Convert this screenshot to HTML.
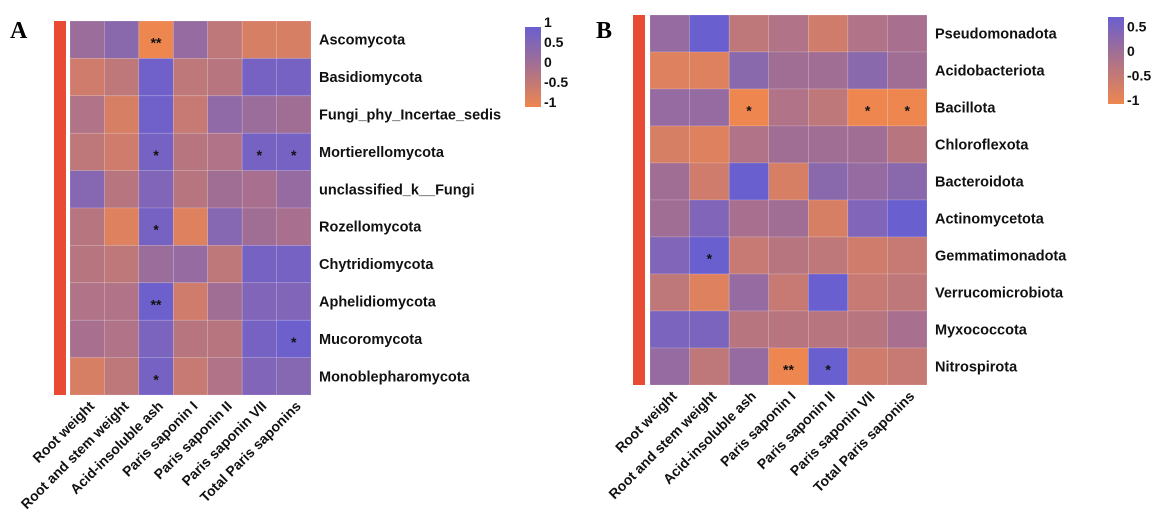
<!DOCTYPE html>
<html><head><meta charset="utf-8">
<style>
html,body{margin:0;padding:0;background:#fff;}
svg{display:block;font-family:"Liberation Sans",Arial,sans-serif;}
.rl{font-size:14.5px;font-weight:bold;fill:#111;}
.xl{font-size:14px;font-weight:bold;fill:#111;}
.lg{font-size:14px;font-weight:bold;fill:#111;}
.pl{font-family:"Liberation Serif",serif;font-size:24px;font-weight:bold;fill:#000;}
</style></head>
<body>
<svg id="chart" width="1169" height="524" viewBox="0 0 1169 524">
<defs>
<linearGradient id="gA" x1="0" y1="1" x2="0" y2="0">
<stop offset="0" stop-color="#EE8650"/><stop offset="0.55" stop-color="#A06E95"/><stop offset="1" stop-color="#6A5FCF"/>
</linearGradient>
<linearGradient id="gB" x1="0" y1="1" x2="0" y2="0">
<stop offset="0" stop-color="#EE8650"/><stop offset="0.6" stop-color="#A06E95"/><stop offset="1" stop-color="#6A5FCF"/>
</linearGradient>
</defs>
</svg>
<script>
const xCats = ["Root weight","Root and stem weight","Acid-insoluble ash","Paris saponin I","Paris saponin II","Paris saponin VII","Total Paris saponins"];
const rowsA = ["Ascomycota","Basidiomycota","Fungi_phy_Incertae_sedis","Mortierellomycota","unclassified_k__Fungi","Rozellomycota","Chytridiomycota","Aphelidiomycota","Mucoromycota","Monoblepharomycota"];
const valsA = [
[0.1,0.4,-1,0.2,-0.4,-0.7,-0.7],
[-0.6,-0.4,0.9,-0.4,-0.3,0.8,0.8],
[-0.2,-0.7,0.9,-0.5,0.3,0.1,0.0],
[-0.4,-0.6,0.8,-0.3,-0.2,0.8,0.8],
[0.5,-0.3,0.6,-0.3,0.0,-0.1,0.2],
[-0.3,-0.8,0.8,-0.8,0.5,0.0,-0.1],
[-0.3,-0.4,0.1,0.2,-0.4,0.8,0.8],
[-0.2,-0.2,0.95,-0.6,0.0,0.6,0.6],
[-0.1,-0.2,0.7,-0.3,-0.3,0.8,0.95],
[-0.7,-0.4,0.8,-0.5,-0.2,0.6,0.5]];
const sigA = [
["","","**","","","",""],["","","","","","",""],["","","","","","",""],
["","","*","","","*","*"],["","","","","","",""],["","","*","","","",""],
["","","","","","",""],["","","**","","","",""],["","","","","","","*"],["","","*","","","",""]];
const rowsB = ["Pseudomonadota","Acidobacteriota","Bacillota","Chloroflexota","Bacteroidota","Actinomycetota","Gemmatimonadota","Verrucomicrobiota","Myxococcota","Nitrospirota"];
const valsB = [
[0.1,0.5,-0.4,-0.2,-0.6,-0.2,-0.1],
[-0.8,-0.8,0.2,0.0,0.0,0.2,0.0],
[0.1,0.1,-1,-0.2,-0.4,-1,-1],
[-0.7,-0.8,-0.2,0.0,0.0,0.0,-0.3],
[0.0,-0.6,0.5,-0.7,0.2,0.1,0.2],
[0.0,0.3,-0.1,0.0,-0.7,0.3,0.5],
[0.3,0.5,-0.5,-0.3,-0.4,-0.6,-0.5],
[-0.4,-0.8,0.1,-0.5,0.5,-0.5,-0.4],
[0.35,0.35,-0.3,-0.3,-0.3,-0.3,-0.1],
[0.1,-0.4,0.1,-1,0.6,-0.6,-0.5]];
const sigB = [
["","","","","","",""],["","","","","","",""],["","","*","","","*","*"],
["","","","","","",""],["","","","","","",""],["","","","","","",""],
["","*","","","","",""],["","","","","","",""],["","","","","","",""],["","","","**","*","",""]];
const ticksA = [1,0.5,0,-0.5,-1];
const ticksB = [0.5,0,-0.5,-1];

const NS="http://www.w3.org/2000/svg";
const svg=document.getElementById('chart');
function el(t,a,p){const e=document.createElementNS(NS,t);for(const k in a)e.setAttribute(k,a[k]);(p||svg).appendChild(e);return e;}
const O=[238,134,80],M=[160,110,149],B=[106,95,207];
function mix(a,b,t){return 'rgb('+a.map((v,i)=>Math.round(v+(b[i]-v)*t)).join(',')+')';}
function color(v,min,max,mid){v=Math.max(min,Math.min(max,v));return v<mid?mix(O,M,(v-min)/(mid-min)):mix(M,B,(v-mid)/(max-mid));}

function panel(cfg){
  const g=el('g',{});
  
  
  const t=el('text',{x:cfg.letterX,y:38,class:'pl'},g);t.textContent=cfg.letter;
  
  const rb=el('rect',{x:cfg.barX,y:cfg.y0,width:12,height:cfg.y1-cfg.y0,fill:'#E84A33'},g);
  
  const nc=xCats.length,nr=cfg.rows.length;
  const cw=(cfg.x1-cfg.x0)/nc,rh=(cfg.y1-cfg.y0)/nr;
  const xs=i=>cfg.x0+i*cw, ys=j=>cfg.y0+j*rh;
  cfg.rows.forEach((r,j)=>{
    xCats.forEach((c,i)=>{
      const v=cfg.vals[j][i];
      const cell=el('rect',{x:xs(i),y:ys(j),width:cw,height:rh,fill:color(v,cfg.min,cfg.max,cfg.mid),stroke:'rgba(255,255,255,0.25)','stroke-width':0.6},g);
      
      
      if(cfg.sig[j][i]){const s=el('text',{x:xs(i)+cw/2,y:ys(j)+rh/2+8,'text-anchor':'middle','font-size':'14','font-weight':'bold',fill:'#111'},g);s.textContent=cfg.sig[j][i];
        }
    });
    const lt=el('text',{x:cfg.x1+8,y:ys(j)+rh/2+5,class:'rl'},g);lt.textContent=r;
    
  });
  xCats.forEach((c,i)=>{
    const x=xs(i)+cw/2+8,y=cfg.y1+12;
    const lt=el('text',{x:x,y:y,class:'xl','text-anchor':'end',transform:'rotate(-45 '+x+' '+y+')'},g);lt.textContent=c;
    
  });
  const lb=el('rect',{x:cfg.lx,y:cfg.ly0,width:16,height:cfg.ly1-cfg.ly0,fill:cfg.grad},g);
  
  cfg.ticks.forEach(tv=>{
    const y=cfg.tZero-tv*cfg.tPer;
    const tt=el('text',{x:cfg.lx+19,y:y+5,class:'lg'},g);tt.textContent=tv;
    
  });
}
panel({name:'panel-a-fungi',letter:'A',letterX:10,barX:54,x0:70,x1:311,y0:21,y1:395,rows:rowsA,vals:valsA,sig:sigA,min:-1,max:1,mid:0,lx:525,ly0:27,ly1:107,tZero:62,tPer:40,ticks:ticksA,grad:'url(#gA)'});
panel({name:'panel-b-bacteria',letter:'B',letterX:596,barX:633,x0:650,x1:927,y0:15,y1:385,rows:rowsB,vals:valsB,sig:sigB,min:-1,max:0.5,mid:0,lx:1108,ly0:17,ly1:104,tZero:51,tPer:49,ticks:ticksB,grad:'url(#gB)'});
</script>
</body></html>
